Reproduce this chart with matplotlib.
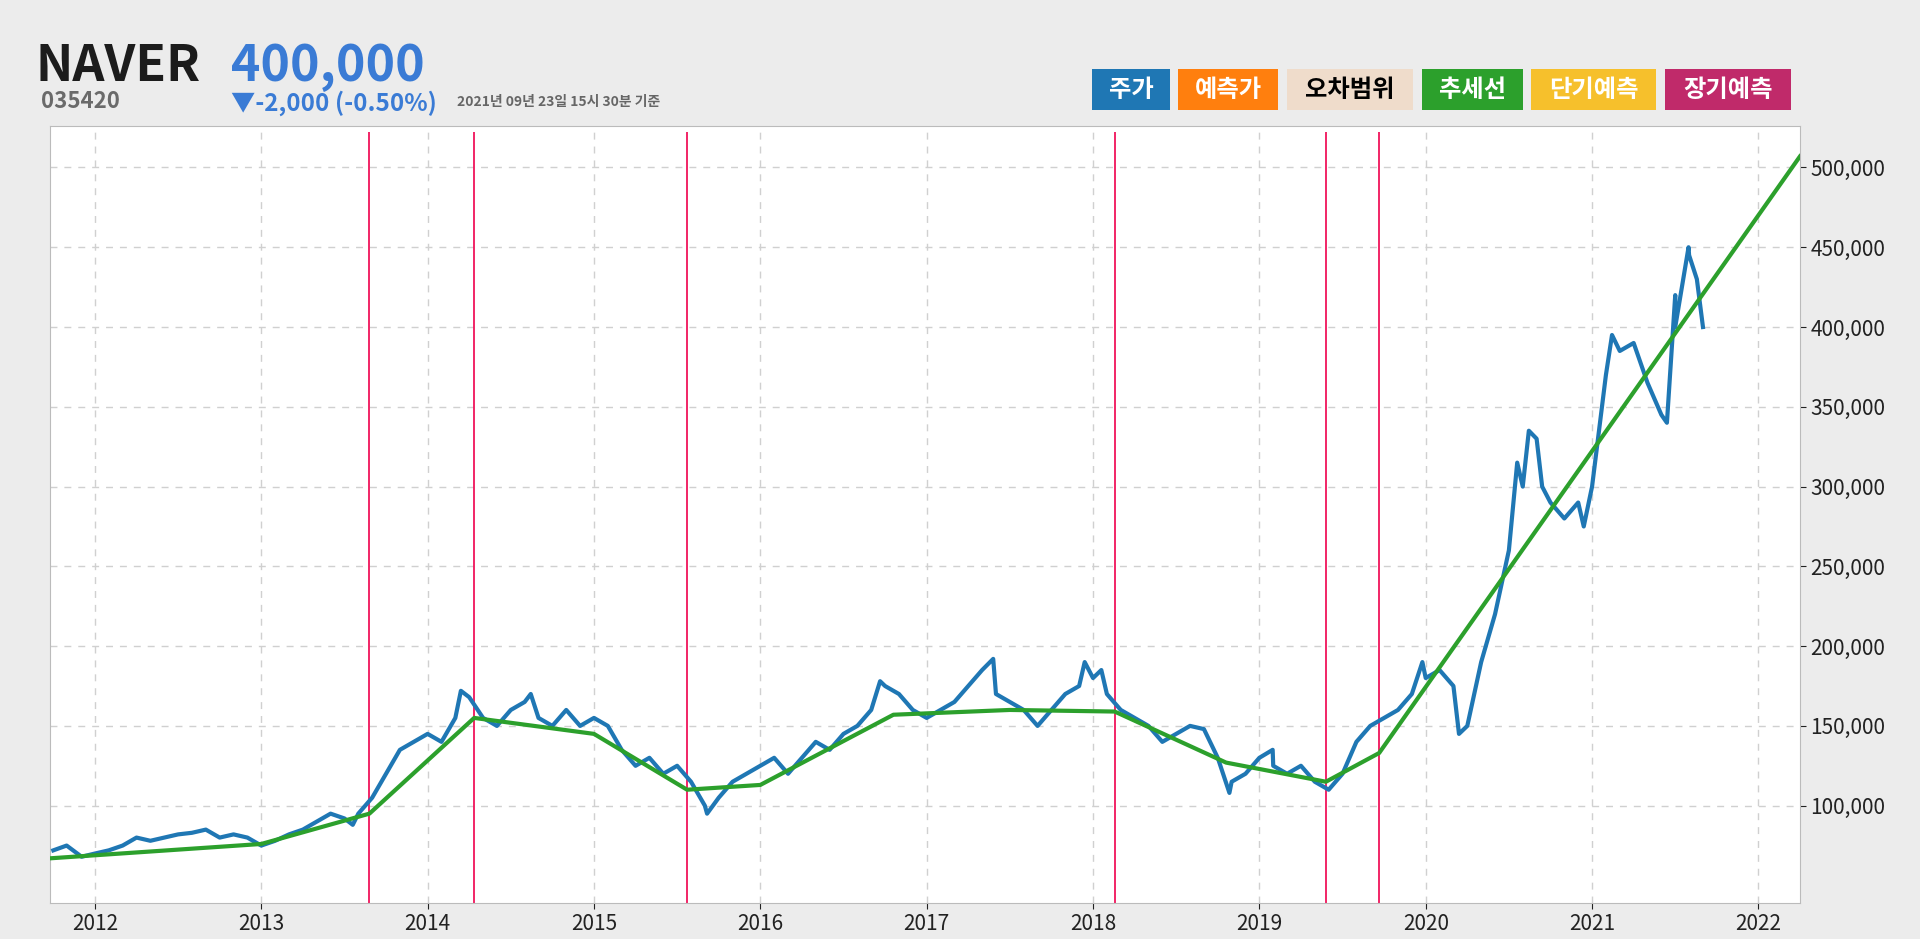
import matplotlib
matplotlib.use("Agg")
import matplotlib.pyplot as plt
from matplotlib.ticker import FuncFormatter

# ======================
# DATA
# ======================
price_t = [2011.75, 2011.83, 2011.92]
price_v = [72000, 75000, 68000]
monthly = {
    2012: [70, 72, 75, 80, 78, 80, 82, 83, 85, 80, 82, 80],
    2013: [75, 78, 82, 85, 90, 95, 92, 95, 105, 120, 135, 140],
    2014: [145, 140, 155, 168, 155, 150, 160, 165, 155, 150, 160, 150],
    2015: [155, 150, 135, 125, 130, 120, 125, 115, 100, 105, 115, 120],
    2016: [125, 130, 120, 130, 140, 135, 145, 150, 160, 175, 170, 160],
    2017: [155, 160, 165, 175, 185, 170, 165, 160, 150, 160, 170, 175],
    2018: [180, 170, 160, 155, 150, 140, 145, 150, 148, 130, 115, 120],
    2019: [130, 125, 120, 125, 115, 110, 120, 140, 150, 155, 160, 170],
    2020: [180, 185, 175, 150, 190, 220, 260, 300, 330, 290, 280, 290],
    2021: [300, 370, 385, 390, 365, 345, 420, 445, 400],
}
# mid-month readings where the price swings
extra_t = [2013.55, 2014.20, 2014.62, 2015.68, 2016.72, 2017.40, 2017.95, 2018.05,
           2018.82, 2019.08, 2019.98, 2020.20, 2020.55, 2020.62, 2020.70, 2020.95,
           2021.12, 2021.30, 2021.45, 2021.50, 2021.58, 2021.63]
extra_v = [88, 172, 170, 95, 178, 192, 190, 185, 108, 135, 190, 145, 315, 335, 300, 275,
           395, 375, 340, 400, 450, 430]

for yr, vals in monthly.items():
    for i, v in enumerate(vals):
        price_t.append(yr + i / 12)
        price_v.append(v * 1000)
price_t += extra_t
price_v += [v * 1000 for v in extra_v]
order = sorted(range(len(price_t)), key=lambda i: price_t[i])
price_t = [price_t[i] for i in order]
price_v = [price_v[i] for i in order]

trend_t = [2011.73, 2013.0, 2013.65, 2014.28, 2015.0, 2015.56, 2016.0, 2016.8,
           2017.5, 2018.13, 2018.8, 2019.4, 2019.72, 2022.25]
trend_v = [67000, 76000, 95000, 155000, 145000, 110000, 113000, 157000,
           160000, 159000, 127000, 115000, 133000, 507000]

event_t = [2013.65, 2014.28, 2015.56, 2018.13, 2019.40, 2019.72]

year_ticks = list(range(2012, 2023))
y_ticks = [100000, 150000, 200000, 250000, 300000, 350000, 400000, 450000, 500000]

legend_items = ["주가", "예측가", "오차범위", "추세선", "단기예측", "장기예측"]
legend_colors = ["#1f77b4", "#ff7f0e", "#efdccb", "#2ca02c", "#f6c02c", "#c02a6a"]
legend_text = ["white", "white", "black", "white", "white", "white"]
legend_x = [1092, 1178, 1287, 1422, 1531, 1665]
legend_w = [78, 100, 126, 101, 125, 126]

# ======================
# FIGURE
# ======================
plt.rcParams["font.family"] = ["Noto Sans CJK KR", "Noto Sans CJK JP", "DejaVu Sans"]
W, H = 1920, 939
fig = plt.figure(figsize=(W / 100, H / 100), dpi=100, facecolor="#ececec")
ax = fig.add_axes([50 / W, 1 - 903 / H, 1750 / W, 777 / H])
ax.set_facecolor("white")

ax.plot(price_t, price_v, color="#1f77b4", lw=3, zorder=3)
ax.plot(trend_t, trend_v, color="#2ca02c", lw=3, zorder=4)
for t in event_t:
    ax.vlines(t, 39000, 522000, color="#f0145a", lw=1.3, zorder=2)

ax.set_xlim(2011.73, 2022.25)
ax.set_ylim(39000, 526000)
ax.set_xticks(year_ticks)
ax.set_yticks(y_ticks)
ax.yaxis.tick_right()
ax.yaxis.set_major_formatter(FuncFormatter(lambda v, p: f"{int(v):,}"))
ax.tick_params(labelsize=15, length=4, colors="#222222")
ax.grid(True, ls=(0, (5, 5)), color="#d0d0d0", lw=1)
for s in ax.spines.values():
    s.set_color("#bbbbbb")

# header
fig.text(35 / W, 1 - 81 / H, "NAVER", fontsize=36, fontweight="bold", color="#1c1c1c")
fig.text(231 / W, 1 - 81 / H, "400,000", fontsize=36, fontweight="bold", color="#3a7bd5")
fig.text(41 / W, 1 - 108 / H, "035420", fontsize=16, fontweight="bold", color="#6a6a6a")
fig.text(231 / W, 1 - 111 / H, "▼-2,000 (-0.50%)", fontsize=17.5, fontweight="bold", color="#3a7bd5")
fig.text(457 / W, 1 - 106 / H, "2021년 09년 23일 15시 30분 기준", fontsize=10,
         fontweight="bold", color="#666666")

for lab, c, tc, x, w in zip(legend_items, legend_colors, legend_text, legend_x, legend_w):
    fig.patches.append(plt.Rectangle((x / W, 1 - 110 / H), w / W, 41 / H,
                                     transform=fig.transFigure, fc=c, ec="none"))
    fig.text((x + w / 2) / W, 1 - 90 / H, lab, fontsize=17.5, fontweight="bold",
             color=tc, ha="center", va="center")

fig.savefig("out.png", dpi=100, facecolor=fig.get_facecolor())
